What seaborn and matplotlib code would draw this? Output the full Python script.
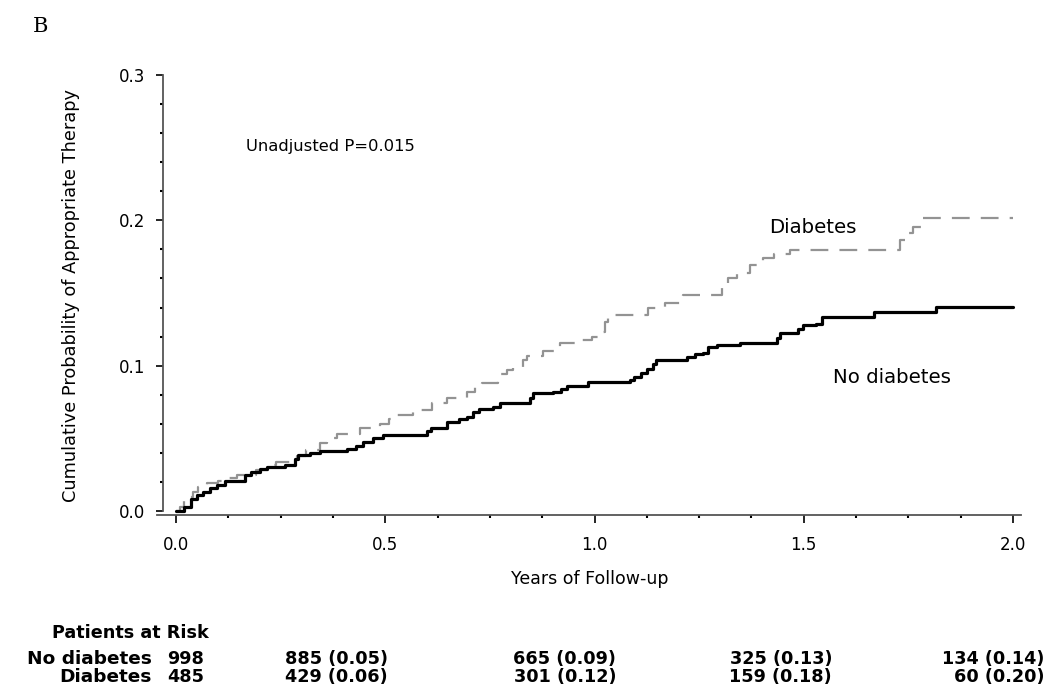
import numpy as np
import pandas as pd
import matplotlib
matplotlib.use("Agg")
import matplotlib.pyplot as plt
from matplotlib.ticker import MultipleLocator
import seaborn as sns

# Kaplan-Meier style cumulative incidence, step times (years) and values
no_diab_t = [0.0, 0.02, 0.035, 0.05, 0.065, 0.08, 0.098, 0.117, 0.165, 0.18, 0.2, 0.217,
             0.26, 0.285, 0.292, 0.32, 0.344, 0.408, 0.43, 0.447, 0.47, 0.495, 0.60, 0.61,
             0.647, 0.675, 0.695, 0.71, 0.725, 0.758, 0.774, 0.846, 0.852, 0.90, 0.92,
             0.934, 0.984, 1.085, 1.095, 1.11, 1.125, 1.14, 1.148, 1.22, 1.24, 1.259,
             1.271, 1.293, 1.348, 1.437, 1.442, 1.485, 1.498, 1.53, 1.543, 1.667, 1.816, 2.0]
no_diab_p = [0.0, 0.003, 0.008, 0.011, 0.013, 0.016, 0.018, 0.021, 0.025, 0.027, 0.029, 0.030,
             0.032, 0.036, 0.0385, 0.040, 0.041, 0.043, 0.045, 0.0475, 0.050, 0.052, 0.055, 0.057,
             0.061, 0.063, 0.065, 0.068, 0.0705, 0.0716, 0.074, 0.078, 0.081, 0.082, 0.084,
             0.086, 0.0888, 0.090, 0.092, 0.095, 0.098, 0.101, 0.104, 0.106, 0.108, 0.109,
             0.113, 0.114, 0.1156, 0.119, 0.1225, 0.125, 0.128, 0.129, 0.1335, 0.137, 0.1404, 0.1404]

diab_t = [0.0, 0.01, 0.02, 0.026, 0.04, 0.053, 0.074, 0.10, 0.125, 0.146, 0.19, 0.225, 0.24,
          0.29, 0.31, 0.344, 0.36, 0.385, 0.44, 0.487, 0.51, 0.528, 0.566, 0.612, 0.647, 0.695,
          0.715, 0.731, 0.77, 0.79, 0.805, 0.83, 0.838, 0.877, 0.918, 0.96, 0.995, 1.013, 1.025,
          1.033, 1.128, 1.168, 1.212, 1.305, 1.32, 1.34, 1.371, 1.403, 1.43, 1.467, 1.73, 1.75,
          1.761, 1.785, 2.0]
diab_p = [0.0, 0.003, 0.007, 0.0096, 0.013, 0.0165, 0.019, 0.021, 0.023, 0.025, 0.028, 0.032, 0.034,
          0.038, 0.042, 0.047, 0.050, 0.053, 0.057, 0.060, 0.063, 0.066, 0.0695, 0.074, 0.078, 0.082,
          0.085, 0.088, 0.094, 0.097, 0.099, 0.104, 0.107, 0.110, 0.1156, 0.118, 0.120, 0.123, 0.130,
          0.135, 0.140, 0.143, 0.1487, 0.156, 0.160, 0.164, 0.169, 0.174, 0.177, 0.1796, 0.1865, 0.191,
          0.1955, 0.2017, 0.2017]

# Patients at risk table
risk_no_diab = [998, 885, 665, 325, 134]
risk_diab = [485, 429, 301, 159, 60]
cum_no_diab = [None, 0.05, 0.09, 0.13, 0.14]
cum_diab = [None, 0.06, 0.12, 0.18, 0.20]

sns.set_style("ticks")
plt.rcParams["font.family"] = ["DejaVu Sans"]
plt.rcParams["text.color"] = "black"
plt.rcParams["axes.labelcolor"] = "black"
plt.rcParams["xtick.color"] = "black"
plt.rcParams["ytick.color"] = "black"

W, H = 1054, 693
fig = plt.figure(figsize=(W / 100, H / 100), dpi=100)
ax = fig.add_axes([157.2 / W, 1 - 515.4 / H, 864.2 / W, 440.4 / H])

df_no = pd.DataFrame({"t": no_diab_t, "p": no_diab_p})
df_d = pd.DataFrame({"t": diab_t, "p": diab_p})

sns.lineplot(data=df_d, x="t", y="p", ax=ax, estimator=None, drawstyle="steps-post",
             color="#939393", linewidth=1.6)
ax.lines[-1].set_dashes((8, 5))
sns.lineplot(data=df_no, x="t", y="p", ax=ax, estimator=None, drawstyle="steps-post",
             color="black", linewidth=2.3)

ax.set_xlim(-0.045, 2.02)
ax.set_ylim(-0.003, 0.3)

ax.xaxis.set_minor_locator(MultipleLocator(0.125))
ax.yaxis.set_minor_locator(MultipleLocator(0.02))
ax.set_xticks([0, 0.5, 1.0, 1.5, 2.0])
ax.set_xticklabels(["0.0", "0.5", "1.0", "1.5", "2.0"])
ax.set_yticks([0, 0.1, 0.2, 0.3])
ax.set_yticklabels(["0.0", "0.1", "0.2", "0.3"])

ax.tick_params(axis="both", which="major", labelsize=12, width=1.2)
ax.tick_params(axis="x", which="major", length=6, pad=9)
ax.tick_params(axis="y", which="major", length=5, pad=8)
ax.tick_params(axis="both", which="minor", length=2.5, width=1.5)

sns.despine(ax=ax)
ax.spines["left"].set_position(("data", -0.03))
ax.spines["left"].set_bounds(0, 0.3)
for side in ("left", "bottom"):
    ax.spines[side].set_color("#555555")
    ax.spines[side].set_linewidth(1.3)

ax.set_xlabel("Years of Follow-up", fontsize=12.5, labelpad=11)
ax.set_ylabel("Cumulative Probability of Appropriate Therapy", fontsize=12.8, labelpad=28)

ax.text(0.167, 0.2505, "Unadjusted P=0.015", fontsize=11.8, va="center", ha="left")
ax.text(1.522, 0.195, "Diabetes", fontsize=14.2, va="center", ha="center")
ax.text(1.711, 0.092, "No diabetes", fontsize=14.2, va="center", ha="center")

fig.text(40 / W, 1 - 27 / H, "B", fontsize=15, family="DejaVu Serif", va="center", ha="center")

# Patients at risk rows
fig.text(130 / W, 1 - 633 / H, "Patients at Risk", fontsize=12.7, weight="bold", ha="center", va="center")
row_y = [659, 677]
names = ["No diabetes", "Diabetes"]
col_right = [204, 388, 616, 832, 1044]
for name, counts, cums, y in zip(names, [risk_no_diab, risk_diab], [cum_no_diab, cum_diab], row_y):
    fig.text(152 / W, 1 - y / H, name, fontsize=13.3, weight="bold", ha="right", va="center")
    for n, c, rx in zip(counts, cums, col_right):
        s = f"{n}" if c is None else f"{n} ({c:.2f})"
        fig.text(rx / W, 1 - y / H, s, fontsize=12.7, weight="bold", ha="right", va="center")

fig.savefig("out.png", dpi=100)
